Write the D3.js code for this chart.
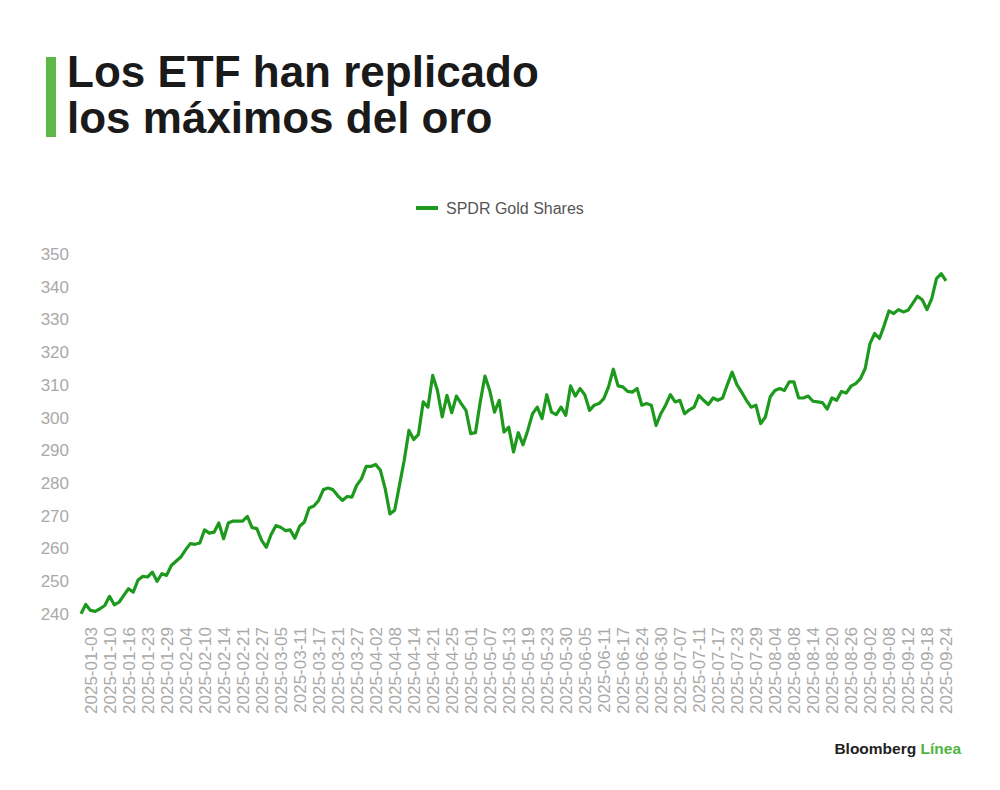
<!DOCTYPE html>
<html>
<head>
<meta charset="utf-8">
<script src="https://cdn.jsdelivr.net/npm/d3@7"></script>
<style>
  body { margin: 0; background: #fff; }
  #wrap { position: relative; width: 1000px; height: 790px; }
  svg { display: block; font-family: 'Liberation Sans', Arial, sans-serif; }
  #title {
    position: absolute; left: 67px; top: 49.3px;
    font-family: 'Liberation Sans', Arial, sans-serif;
    font-size: 44px; font-weight: 700; line-height: 46px;
    color: #1a1a1a; white-space: nowrap;
  }
</style>
</head>
<body>
<div id="wrap">
  <svg id="chart"></svg>
  <div id="title"></div>
</div>
<script>
// trading days, grouped by month (2024-12-31 .. 2025-09-24)
const tradingDays = [
  ['2024-12', [31]],
  ['2025-01', [2,3,6,7,8,10,13,14,15,16,17,21,22,23,24,27,28,29,30,31]],
  ['2025-02', [3,4,5,6,7,10,11,12,13,14,18,19,20,21,24,25,26,27,28]],
  ['2025-03', [3,4,5,6,7,10,11,12,13,14,17,18,19,20,21,24,25,26,27,28,31]],
  ['2025-04', [1,2,3,4,7,8,9,10,11,14,15,16,17,21,22,23,24,25,28,29,30]],
  ['2025-05', [1,2,5,6,7,8,9,12,13,14,15,16,19,20,21,22,23,27,28,29,30]],
  ['2025-06', [2,3,4,5,6,9,10,11,12,13,16,17,18,20,23,24,25,26,27,30]],
  ['2025-07', [1,2,3,7,8,9,10,11,14,15,16,17,18,21,22,23,24,25,28,29,30,31]],
  ['2025-08', [1,4,5,6,7,8,11,12,13,14,15,18,19,20,21,22,25,26,27,28,29]],
  ['2025-09', [2,3,4,5,8,9,10,11,12,15,16,17,18,19,22,23,24]]
];

// SPDR Gold Shares
const gldPrice = [
  240.1, 242.9, 241.1, 240.8, 241.6, 242.6, 245.4, 242.8, 243.6, 245.7,
  247.7, 246.7, 250.4, 251.5, 251.3, 252.8, 250.0, 252.3, 251.8, 254.8,
  256.1, 257.4, 259.6, 261.5, 261.3, 261.7, 265.7, 264.7, 265.0, 267.8,
  263.0, 267.8, 268.4, 268.4, 268.4, 269.8, 266.4, 266.1, 262.5, 260.4,
  264.3, 267.0, 266.5, 265.5, 265.7, 263.2, 266.8, 268.1, 272.4, 273.0,
  274.7, 278.0, 278.5, 278.0, 276.2, 274.7, 275.9, 275.7, 279.3, 281.3,
  285.1, 285.1, 285.7, 283.9, 278.3, 270.6, 271.7, 279.3, 286.9, 296.1,
  293.3, 294.9, 304.8, 303.2, 312.9, 308.3, 300.2, 306.8, 301.5, 306.6,
  304.3, 302.2, 295.1, 295.4, 304.8, 312.7, 308.3, 301.7, 305.3, 295.6,
  297.1, 289.5, 295.4, 291.7, 296.1, 301.2, 303.2, 299.7, 307.0, 301.7,
  300.9, 303.2, 300.7, 309.7, 306.6, 308.9, 307.0, 302.2, 303.8, 304.3,
  305.8, 309.4, 314.8, 309.7, 309.4, 308.0, 307.8, 308.9, 303.8, 304.3,
  303.8, 297.6, 301.2, 303.8, 307.0, 304.8, 305.3, 301.2, 302.4, 303.2,
  306.8, 305.3, 304.0, 306.0, 305.3, 306.0, 310.1, 313.9, 310.1, 307.8,
  305.3, 303.2, 303.8, 298.2, 300.2, 306.3, 308.3, 308.9, 308.3, 310.9,
  310.9, 306.0, 306.0, 306.6, 305.0, 304.8, 304.6, 302.6, 306.0, 305.3,
  308.0, 307.5, 309.6, 310.4, 311.9, 315.0, 322.6, 325.7, 324.2, 328.2,
  332.6, 331.8, 333.0, 332.3, 332.8, 334.9, 337.1, 336.0, 333.0, 336.4,
  342.5, 344.0, 341.8
];

const yTicks = [240, 250, 260, 270, 280, 290, 300, 310, 320, 330, 340, 350];
const titleLines = ['Los ETF han replicado', 'los máximos del oro'];
const seriesName = 'SPDR Gold Shares';

const dates = tradingDays.flatMap(([m, days]) => days.map(d => m + '-' + String(d).padStart(2, '0')));
const data = dates.map((d, i) => ({ date: d, value: gldPrice[i] }));
// every 4th trading day gets a label, starting with 2025-01-03
const xTickDates = dates.filter((d, i) => i >= 2 && (i - 2) % 4 === 0);

const width = 1000;
const height = 790;
const green = '#1d9a1d';

const svg = d3.select('#chart').attr('width', width).attr('height', height);

// title: green bar + two lines in one block
svg.append('rect')
  .attr('x', 46).attr('y', 57).attr('width', 10).attr('height', 80)
  .attr('fill', '#5cb947');

d3.select('#title').html(titleLines.join('<br>'));

// legend
const legend = svg.append('g').attr('transform', 'translate(416,208)');
legend.append('line')
  .attr('x1', 0).attr('x2', 22)
  .attr('stroke', green).attr('stroke-width', 4);
legend.append('text')
  .attr('x', 30).attr('dy', '0.35em')
  .attr('font-size', 16).attr('fill', '#555')
  .text(seriesName);

const xScale = d3.scalePoint()
  .domain(dates)
  .range([81, 946]);

const yScale = d3.scaleLinear()
  .domain([240, 350])
  .range([614, 254]);

// y axis labels only
const yAxis = svg.append('g')
  .attr('transform', 'translate(69,0)')
  .call(d3.axisLeft(yScale).tickValues(yTicks).tickSize(0).tickPadding(0));
yAxis.select('.domain').remove();
yAxis.selectAll('text')
  .attr('font-size', 17)
  .attr('font-family', "'Liberation Sans', Arial, sans-serif")
  .attr('fill', '#a9a9a9');

// x axis labels, rotated
const xAxis = svg.append('g')
  .attr('transform', 'translate(0,627)')
  .call(d3.axisBottom(xScale).tickValues(xTickDates).tickSize(0).tickPadding(0));
xAxis.select('.domain').remove();
xAxis.selectAll('text')
  .attr('font-size', 17)
  .attr('font-family', "'Liberation Sans', Arial, sans-serif")
  .attr('fill', '#a9a9a9')
  .attr('text-anchor', 'end')
  .attr('transform', 'rotate(-90)')
  .attr('x', 0)
  .attr('y', 0)
  .attr('dy', '0.35em');

const line = d3.line()
  .x(d => xScale(d.date))
  .y(d => yScale(d.value));

svg.append('path')
  .datum(data)
  .attr('d', line)
  .attr('fill', 'none')
  .attr('stroke', green)
  .attr('stroke-width', 3.2)
  .attr('stroke-linejoin', 'round');

// source logo
const logo = svg.append('text')
  .attr('x', 961).attr('y', 754)
  .attr('text-anchor', 'end')
  .attr('font-size', 15.5)
  .attr('font-weight', 700);
logo.append('tspan').attr('fill', '#222').text('Bloomberg ');
logo.append('tspan').attr('fill', '#4fb443').text('Línea');
</script>
</body>
</html>
